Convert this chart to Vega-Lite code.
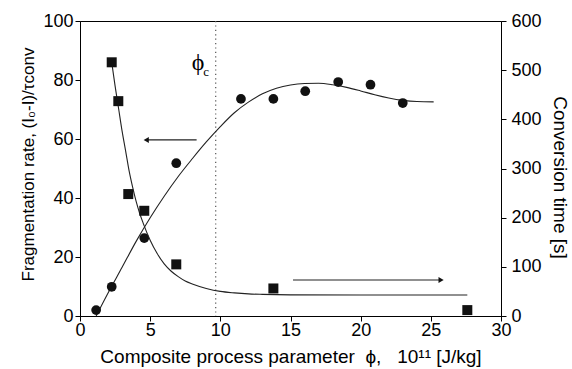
{
  "$schema": "https://vega.github.io/schema/vega-lite/v6.json",
  "autosize": {"type": "none"},
  "width": 421,
  "height": 295,
  "padding": {"left": 80, "top": 21, "right": 71, "bottom": 53},
  "background": "white",
  "config": {
    "view": {"stroke": "#000", "strokeWidth": 1},
    "font": "Liberation Sans",
    "axis": {
      "grid": false,
      "domainColor": "#000",
      "tickColor": "#000",
      "labelColor": "#000",
      "titleColor": "#000",
      "labelFont": "Liberation Sans",
      "titleFont": "Liberation Sans",
      "labelFontSize": 18,
      "titleFontSize": 19,
      "titleFontWeight": "normal",
      "labelFlush": false,
      "labelOverlap": false
    }
  },
  "datasets": {
    "circles": [
      {"x": 1.15, "y": 2.0}, {"x": 2.26, "y": 9.9}, {"x": 4.58, "y": 26.4}, {"x": 6.86, "y": 51.8},
      {"x": 11.47, "y": 73.6}, {"x": 13.78, "y": 73.6}, {"x": 16.05, "y": 76.2}, {"x": 18.4, "y": 79.3},
      {"x": 20.7, "y": 78.4}, {"x": 23.0, "y": 72.2}
    ],
    "circleFit": [
      {"x": 1.15, "y": 0}, {"x": 2.0, "y": 7.8}, {"x": 3.0, "y": 16.5}, {"x": 4.0, "y": 25.3},
      {"x": 5.0, "y": 33.3}, {"x": 6.0, "y": 40.6}, {"x": 7.0, "y": 47.3}, {"x": 8.0, "y": 53.3},
      {"x": 9.0, "y": 59.0}, {"x": 10.0, "y": 64.2}, {"x": 11.0, "y": 68.9}, {"x": 12.0, "y": 72.5},
      {"x": 13.0, "y": 75.3}, {"x": 14.0, "y": 77.2}, {"x": 15.0, "y": 78.3}, {"x": 16.0, "y": 78.8},
      {"x": 17.0, "y": 78.9}, {"x": 18.0, "y": 78.4}, {"x": 19.0, "y": 77.5}, {"x": 20.0, "y": 76.3},
      {"x": 21.0, "y": 75.0}, {"x": 22.0, "y": 73.9}, {"x": 23.0, "y": 73.1}, {"x": 24.0, "y": 72.7},
      {"x": 25.2, "y": 72.6}
    ],
    "squares": [
      {"x": 2.26, "t": 516}, {"x": 2.73, "t": 437}, {"x": 3.44, "t": 248}, {"x": 4.58, "t": 214},
      {"x": 6.86, "t": 105}, {"x": 13.78, "t": 56}, {"x": 27.6, "t": 12}
    ],
    "squareFit": [
      {"x": 2.26, "t": 516}, {"x": 2.5, "t": 468}, {"x": 2.75, "t": 422}, {"x": 3.0, "t": 376},
      {"x": 3.25, "t": 336}, {"x": 3.5, "t": 295}, {"x": 3.75, "t": 262}, {"x": 4.0, "t": 233},
      {"x": 4.25, "t": 209}, {"x": 4.5, "t": 189}, {"x": 5.0, "t": 154}, {"x": 5.5, "t": 127},
      {"x": 6.0, "t": 106}, {"x": 6.5, "t": 91}, {"x": 7.0, "t": 80}, {"x": 7.5, "t": 71},
      {"x": 8.0, "t": 65}, {"x": 9.0, "t": 56}, {"x": 10.0, "t": 50}, {"x": 11.0, "t": 47},
      {"x": 12.0, "t": 45}, {"x": 13.0, "t": 44}, {"x": 15.0, "t": 43}, {"x": 20.0, "t": 42.6},
      {"x": 27.6, "t": 42.6}
    ],
    "arrows": [
      {"x": 4.72, "x2": 8.31, "y": 59.7},
      {"x": 15.18, "x2": 25.73, "y": 12.2}
    ],
    "heads": [
      {"x": 4.72, "y": 59.7, "dir": "triangle-left"},
      {"x": 25.73, "y": 12.2, "dir": "triangle-right"}
    ],
    "crit": [{"x": 9.67}],
    "phi": [{"x": 8.41, "y": 85.6, "txt": "ϕ"}],
    "sub": [{"x": 8.98, "y": 82.6, "txt": "c"}]
  },
  "layer": [
    {
      "layer": [
        {
          "data": {"name": "crit"},
          "mark": {"type": "rule", "color": "#555", "strokeWidth": 1.2, "strokeDash": [1.2, 3.2]},
          "encoding": {
            "x": {"field": "x", "type": "quantitative", "scale": {"domain": [0, 30], "nice": false, "zero": false},
              "title": "Composite process parameter\u00a0\u00a0ϕ,\u00a0\u00a0\u00a010¹¹ [J/kg]",
              "axis": {
                "values": [0, 2.5, 5, 7.5, 10, 12.5, 15, 17.5, 20, 22.5, 25, 27.5, 30],
                "labelExpr": "datum.value % 5 === 0 ? datum.label : ''",
                "tickSize": {"condition": {"test": "datum.value % 5 === 0", "value": 5}, "value": 3},
                "labelPadding": 0,
                "titlePadding": 8,
                "titleFontSize": 19
              }
            }
          }
        },
        {
          "data": {"name": "circleFit"},
          "mark": {"type": "line", "color": "#222", "strokeWidth": 1.1, "interpolate": "monotone"},
          "encoding": {
            "x": {"field": "x", "type": "quantitative"},
            "y": {"field": "y", "type": "quantitative", "scale": {"domain": [0, 100], "nice": false, "zero": false},
              "title": "Fragmentation rate, (I₀-I)/τconv",
              "axis": {
                "orient": "left",
                "values": [0, 10, 20, 30, 40, 50, 60, 70, 80, 90, 100],
                "labelExpr": "datum.value % 20 === 0 ? datum.label : ''",
                "tickSize": {"condition": {"test": "datum.value % 20 === 0", "value": 5}, "value": 3},
                "labelPadding": 2,
                "titlePadding": 5,
                "titleFontSize": 17,
                "titleY": 143
              }
            }
          }
        },
        {
          "data": {"name": "circles"},
          "mark": {"type": "point", "shape": "circle", "filled": true, "color": "#111", "size": 95, "opacity": 1},
          "encoding": {
            "x": {"field": "x", "type": "quantitative"},
            "y": {"field": "y", "type": "quantitative"}
          }
        },
        {
          "data": {"name": "arrows"},
          "mark": {"type": "rule", "color": "#222", "strokeWidth": 1.1},
          "encoding": {
            "x": {"field": "x", "type": "quantitative"},
            "x2": {"field": "x2"},
            "y": {"field": "y", "type": "quantitative"}
          }
        },
        {
          "data": {"name": "heads"},
          "mark": {"type": "point", "filled": true, "color": "#111", "size": 36, "opacity": 1},
          "encoding": {
            "x": {"field": "x", "type": "quantitative"},
            "y": {"field": "y", "type": "quantitative"},
            "shape": {"field": "dir", "type": "nominal", "scale": {"domain": ["triangle-left", "triangle-right"], "range": ["triangle-left", "triangle-right"]}, "legend": null}
          }
        },
        {
          "data": {"name": "phi"},
          "mark": {"type": "text", "font": "Liberation Serif", "fontSize": 24, "fill": "#000", "align": "center", "baseline": "middle"},
          "encoding": {
            "x": {"field": "x", "type": "quantitative"},
            "y": {"field": "y", "type": "quantitative"},
            "text": {"field": "txt"}
          }
        },
        {
          "data": {"name": "sub"},
          "mark": {"type": "text", "font": "Liberation Serif", "fontSize": 13, "fill": "#000", "align": "center", "baseline": "middle"},
          "encoding": {
            "x": {"field": "x", "type": "quantitative"},
            "y": {"field": "y", "type": "quantitative"},
            "text": {"field": "txt"}
          }
        }
      ]
    },
    {
      "layer": [
        {
          "data": {"name": "squareFit"},
          "mark": {"type": "line", "color": "#222", "strokeWidth": 1.1, "interpolate": "monotone"},
          "encoding": {
            "x": {"field": "x", "type": "quantitative"},
            "y": {"field": "t", "type": "quantitative", "scale": {"domain": [0, 600], "nice": false, "zero": false},
              "title": "Conversion time [s]",
              "axis": {
                "orient": "right",
                "values": [0, 50, 100, 150, 200, 250, 300, 350, 400, 450, 500, 550, 600],
                "labelExpr": "datum.value % 100 === 0 ? datum.label : ''",
                "tickSize": {"condition": {"test": "datum.value % 100 === 0", "value": 5}, "value": 3},
                "labelPadding": 5,
                "titlePadding": 8,
                "titleY": 156
              }
            }
          }
        },
        {
          "data": {"name": "squares"},
          "mark": {"type": "point", "shape": "square", "filled": true, "color": "#111", "size": 100, "opacity": 1},
          "encoding": {
            "x": {"field": "x", "type": "quantitative"},
            "y": {"field": "t", "type": "quantitative"}
          }
        }
      ]
    }
  ],
  "resolve": {"scale": {"y": "independent"}}
}
